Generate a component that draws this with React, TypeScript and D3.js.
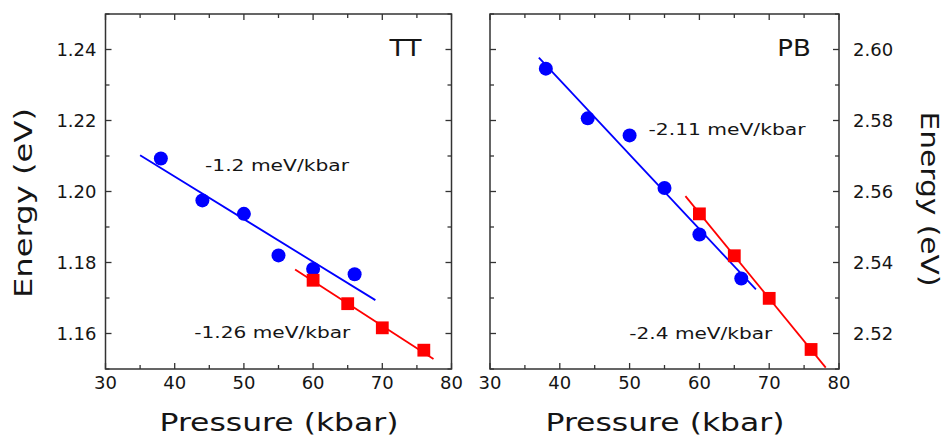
import React from "react";
import * as d3 from "d3";

// pressure (kbar) / energy (eV)
const pressureTTCircle = [38, 44, 50, 55, 60, 66];
const energyTTCircle = [1.2093, 1.1975, 1.1937, 1.182, 1.1782, 1.1767];
const pressureTTSquare = [60, 65, 70, 76];
const energyTTSquare = [1.175, 1.1684, 1.1616, 1.1553];
const fitTTCircle: [number, number][] = [[35, 1.2102], [69, 1.1694]];
const fitTTSquare: [number, number][] = [[57.4, 1.178], [77.4, 1.1528]];

const pressurePBCircle = [38, 44, 50, 55, 60, 66];
const energyPBCircle = [2.5946, 2.5806, 2.5758, 2.561, 2.5479, 2.5355];
const pressurePBSquare = [60, 65, 70, 76];
const energyPBSquare = [2.5537, 2.5419, 2.5299, 2.5155];
const fitPBCircle: [number, number][] = [[37, 2.5977], [68.1, 2.5324]];
const fitPBSquare: [number, number][] = [[58, 2.5587], [78.1, 2.5104]];

const xTicks = [30, 40, 50, 60, 70, 80];
const xMinorTicks = [35, 45, 55, 65, 75];
const yTicksTT = [1.16, 1.18, 1.2, 1.22, 1.24];
const yMinorTT = [1.15, 1.17, 1.19, 1.21, 1.23, 1.25];
const yTicksPB = [2.52, 2.54, 2.56, 2.58, 2.6];
const yMinorPB = [2.51, 2.53, 2.55, 2.57, 2.59, 2.61];

const FONT = "'DejaVu Sans', Verdana, sans-serif";
const INK = "#151515";
const BLUE = "#0000ff";
const RED = "#ff0000";

type Note = { text: string; x: number; y: number; len: number; size: number };

const Panel = ({
  left,
  right,
  yDomain,
  yTicks,
  yMinor,
  labelSide,
  circles,
  squares,
  fits,
  notes,
}: {
  left: number;
  right: number;
  yDomain: [number, number];
  yTicks: number[];
  yMinor: number[];
  labelSide: "left" | "right";
  circles: [number[], number[]];
  squares: [number[], number[]];
  fits: [number, number][][];
  notes: Note[];
}) => {
  const top = 14;
  const bottom = 369;
  const x = d3.scaleLinear().domain([30, 80]).range([left, right]);
  const y = d3.scaleLinear().domain(yDomain).range([bottom, top]);
  const line = d3
    .line<[number, number]>()
    .x((d) => x(d[0]))
    .y((d) => y(d[1]));
  const major = 6;
  const minor = 4;
  const sq = 12.8;

  return (
    <g>
      {/* fit lines */}
      <path d={line(fits[0]) || ""} stroke={BLUE} strokeWidth={1.8} fill="none" />
      <path d={line(fits[1]) || ""} stroke={RED} strokeWidth={1.8} fill="none" />

      {circles[0].map((p, i) => (
        <circle key={"c" + i} cx={x(p)} cy={y(circles[1][i])} r={7} fill={BLUE} />
      ))}
      {squares[0].map((p, i) => (
        <rect
          key={"s" + i}
          x={x(p) - sq / 2}
          y={y(squares[1][i]) - sq / 2}
          width={sq}
          height={sq}
          fill={RED}
        />
      ))}

      {/* frame + inward ticks on all four sides */}
      <rect
        x={left}
        y={top}
        width={right - left}
        height={bottom - top}
        fill="none"
        stroke="#333"
        strokeWidth={1.5}
      />
      <g stroke="#333" strokeWidth={1.3}>
        {xTicks.concat(xMinorTicks).map((t) => {
          const len = xTicks.includes(t) ? major : minor;
          return (
            <g key={"xt" + t}>
              <line x1={x(t)} x2={x(t)} y1={bottom} y2={bottom - len} />
              <line x1={x(t)} x2={x(t)} y1={top} y2={top + len} />
            </g>
          );
        })}
        {yTicks.concat(yMinor).map((t) => {
          const len = yTicks.includes(t) ? major : minor;
          return (
            <g key={"yt" + t}>
              <line x1={left} x2={left + len} y1={y(t)} y2={y(t)} />
              <line x1={right} x2={right - len} y1={y(t)} y2={y(t)} />
            </g>
          );
        })}
      </g>

      <g fontFamily={FONT} fontSize={18} fill={INK}>
        {xTicks.map((t) => (
          <text key={"xl" + t} x={x(t)} y={389} textAnchor="middle">
            {t}
          </text>
        ))}
        {yTicks.map((t) => (
          <text
            key={"yl" + t}
            x={labelSide === "left" ? left - 9 : right + 14}
            y={y(t)}
            dy="0.36em"
            textAnchor={labelSide === "left" ? "end" : "start"}
          >
            {d3.format(".2f")(t)}
          </text>
        ))}
      </g>

      <text
        x={(left + right) / 2 + 0.5}
        y={431}
        textAnchor="middle"
        fontFamily={FONT}
        fontSize={25.5}
        fill={INK}
        textLength={239}
        lengthAdjust="spacingAndGlyphs"
      >
        Pressure (kbar)
      </text>

      {notes.map((n) => (
        <text
          key={n.text}
          x={n.x}
          y={n.y}
          fontFamily={FONT}
          fontSize={n.size}
          fill={INK}
          textLength={n.len}
          lengthAdjust="spacingAndGlyphs"
        >
          {n.text}
        </text>
      ))}
    </g>
  );
};

const App = () => {
  return (
    <svg
      width={945}
      height={436}
      style={{ position: "absolute", left: 0, top: 0, background: "#fff" }}
    >
      <Panel
        left={105.5}
        right={451.5}
        yDomain={[1.15, 1.25]}
        yTicks={yTicksTT}
        yMinor={yMinorTT}
        labelSide="left"
        circles={[pressureTTCircle, energyTTCircle]}
        squares={[pressureTTSquare, energyTTSquare]}
        fits={[fitTTCircle, fitTTSquare]}
        notes={[
          { text: "TT", x: 389.5, y: 56, len: 32, size: 23.5 },
          { text: "-1.2 meV/kbar", x: 205, y: 170.7, len: 144, size: 16.5 },
          { text: "-1.26 meV/kbar", x: 194.3, y: 338.3, len: 156, size: 16.5 },
        ]}
      />
      <Panel
        left={490}
        right={839}
        yDomain={[2.51, 2.61]}
        yTicks={yTicksPB}
        yMinor={yMinorPB}
        labelSide="right"
        circles={[pressurePBCircle, energyPBCircle]}
        squares={[pressurePBSquare, energyPBSquare]}
        fits={[fitPBCircle, fitPBSquare]}
        notes={[
          { text: "PB", x: 777.3, y: 56, len: 33.5, size: 23.5 },
          { text: "-2.11 meV/kbar", x: 648.5, y: 135, len: 157, size: 16.5 },
          { text: "-2.4 meV/kbar", x: 629.3, y: 339, len: 143, size: 16.5 },
        ]}
      />

      <text
        transform="translate(31.7,203) rotate(-90)"
        textAnchor="middle"
        fontFamily={FONT}
        fontSize={25.5}
        fill={INK}
        textLength={190}
        lengthAdjust="spacingAndGlyphs"
      >
        Energy (eV)
      </text>
      <text
        transform="translate(921.2,199) rotate(90)"
        textAnchor="middle"
        fontFamily={FONT}
        fontSize={25}
        fill={INK}
        textLength={175}
        lengthAdjust="spacingAndGlyphs"
      >
        Energy (eV)
      </text>
    </svg>
  );
};

export default App;
